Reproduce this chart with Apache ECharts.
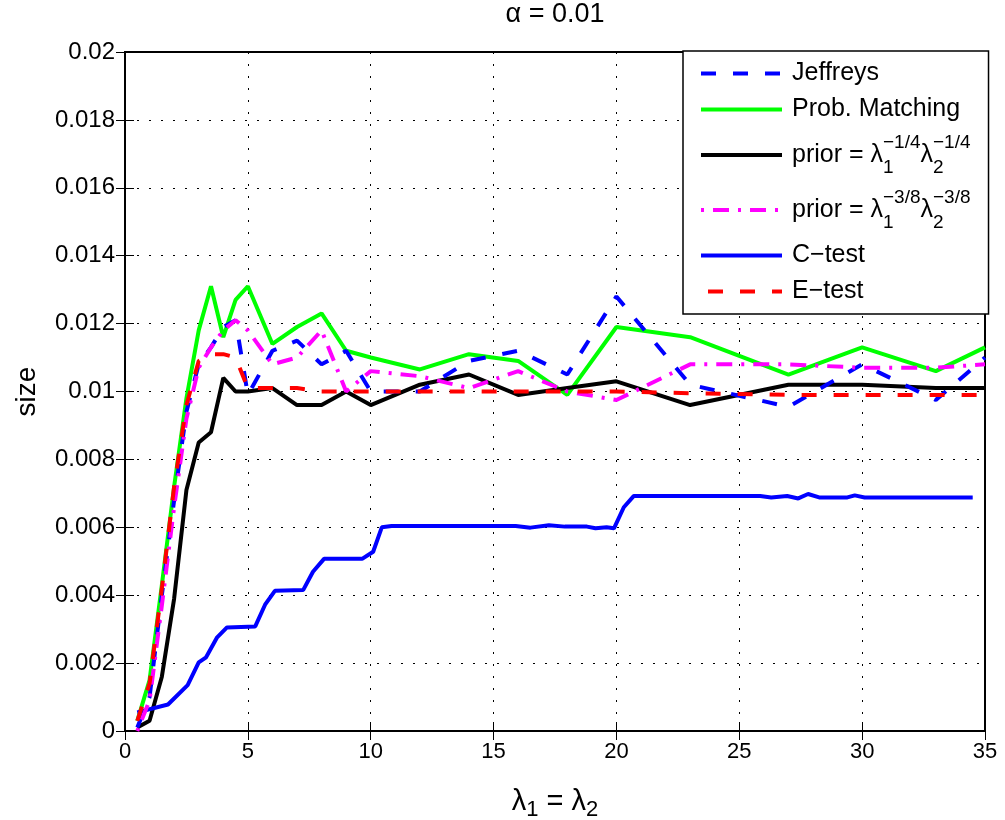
<!DOCTYPE html>
<html>
<head>
<meta charset="utf-8">
<script src="https://cdn.jsdelivr.net/npm/echarts@6/dist/echarts.min.js"></script>
<style>
  html, body { margin: 0; padding: 0; background: #fff; }
  #chart { width: 1005px; height: 820px; }
</style>
</head>
<body>
<div id="chart"></div>
<script>
// lambda values shared by the Bayesian tests and the E-test
const lambdaGrid = [0.5, 1, 1.5, 2, 2.5, 3, 3.5, 4, 4.5, 5, 6, 7, 8, 9, 10, 12, 14, 16, 18, 20, 23, 27, 30, 33, 35];

const jeffreys = [0.0001, 0.0010, 0.0040, 0.0068, 0.0094, 0.0108, 0.0113, 0.0119, 0.0121, 0.0099,
  0.0112, 0.0115, 0.0108, 0.0112, 0.0100, 0.0100, 0.0109, 0.0112, 0.0105, 0.0128,
  0.0102, 0.00955, 0.0108, 0.00975, 0.0110];

const probMatching = [0.0003, 0.0015, 0.0043, 0.0072, 0.0098, 0.0118, 0.0131, 0.0116, 0.0127, 0.0131,
  0.0114, 0.0119, 0.0123, 0.0112, 0.0110, 0.01065, 0.0111, 0.0109, 0.0099, 0.0119,
  0.0116, 0.0105, 0.0113, 0.0106, 0.0113];

const priorQuarter = [0.0001, 0.0003, 0.0016, 0.0039, 0.0071, 0.0085, 0.0088, 0.0104, 0.0100, 0.0100,
  0.0101, 0.0096, 0.0096, 0.0100, 0.0096, 0.0102, 0.0105, 0.0099, 0.0101, 0.0103,
  0.0096, 0.0102, 0.0102, 0.0101, 0.0101];

const priorThreeEighths = [0.0000, 0.0009, 0.0037, 0.0066, 0.0092, 0.0107, 0.0113, 0.0118, 0.0121, 0.0118,
  0.0108, 0.0110, 0.0118, 0.0100, 0.0106, 0.01045, 0.0101, 0.0106, 0.0100, 0.00975,
  0.0108, 0.0108, 0.0107, 0.0107, 0.0108];

const eTest = [0.0003, 0.0014, 0.0042, 0.0072, 0.0096, 0.0109, 0.0111, 0.0111, 0.0110, 0.0101,
  0.0101, 0.0101, 0.0100, 0.0100, 0.0100, 0.0100, 0.0100, 0.0100, 0.0100, 0.0100,
  0.00995, 0.0099, 0.0099, 0.0099, 0.0099];

// the C-test is evaluated on its own, finer lambda grid
const cTestLambda = [0.5, 1.75, 2.55, 3.0, 3.3, 3.75, 4.15, 5.3, 5.7, 6.1,
  7.25, 7.65, 8.1, 9.65, 10.1, 10.45, 10.85, 15.9, 16.5, 17.25,
  17.9, 18.8, 19.15, 19.6, 19.9, 20.3, 20.7, 25.85, 26.3, 26.95,
  27.4, 27.8, 28.25, 29.4, 29.7, 30.1, 34.5];
const cTest = [0.00055, 0.00078, 0.00135, 0.00202, 0.00217, 0.00276, 0.00305, 0.00308, 0.00372, 0.00413,
  0.00415, 0.00469, 0.00507, 0.00507, 0.00528, 0.0060, 0.00604, 0.00604, 0.00599, 0.00606,
  0.00602, 0.00602, 0.00597, 0.0060, 0.00597, 0.00659, 0.00692, 0.00692, 0.00688, 0.00692,
  0.00685, 0.00698, 0.00688, 0.00688, 0.00694, 0.00688, 0.00688];

const xTicks = { min: 0, max: 35, interval: 5 };
const yTicks = { min: 0, max: 0.02, interval: 0.002 };

const FONT = "'Liberation Sans', Arial, Helvetica, sans-serif";

function pairs(xs, ys) {
  return xs.map((x, i) => [x, ys[i]]);
}

// legend labels with λ sub/superscripts
const legendLabels = {
  'Jeffreys': '{n|Jeffreys}',
  'Prob. Matching': '{n|Prob. Matching}',
  'prior 1/4': '{m|prior = λ}{b|1}{p|−1/4}{m|λ}{b|2}{p|−1/4}',
  'prior 3/8': '{m|prior = λ}{b|1}{p|−3/8}{m|λ}{b|2}{p|−3/8}',
  'C−test': '{n|C−test}',
  'E−test': '{n|E−test}'
};

const dotted = { color: '#000', width: 1, type: [2, 10] };

const chart = echarts.init(document.getElementById('chart'), null, { renderer: 'canvas' });

chart.setOption({
  animation: false,
  backgroundColor: '#fff',
  textStyle: { fontFamily: FONT },
  title: {
    text: 'α = 0.01',
    left: 555,
    top: 0,
    padding: 0,
    textAlign: 'center',
    textStyle: { fontFamily: FONT, fontSize: 27, fontWeight: 'normal', color: '#000', lineHeight: 30 }
  },
  grid: {
    left: 125, right: 20, top: 52, bottom: 89,
    outerBoundsMode: 'none',
    containLabel: false,
    show: true, borderColor: '#000', borderWidth: 2, backgroundColor: 'transparent'
  },
  legend: {
    orient: 'vertical',
    left: 683,
    top: 51,
    padding: [10, 18, 10, 16],
    itemGap: 11,
    itemWidth: 81,
    itemHeight: 14,
    selectedMode: false,
    backgroundColor: '#fff',
    borderColor: '#000',
    borderWidth: 1.5,
    borderRadius: 0,
    lineStyle: { width: 4 },
    itemStyle: { opacity: 0, borderWidth: 0 },
    data: ['Jeffreys', 'Prob. Matching', 'prior 1/4', 'prior 3/8', 'C−test', 'E−test'],
    formatter: name => legendLabels[name],
    textStyle: {
      fontFamily: FONT,
      color: '#000',
      padding: [0, 0, 0, 5],
      rich: {
        n: { fontFamily: FONT, fontSize: 25, lineHeight: 24, color: '#000' },
        m: { fontFamily: FONT, fontSize: 25, lineHeight: 44, color: '#000', verticalAlign: 'middle' },
        b: { fontFamily: FONT, fontSize: 19, lineHeight: 17, color: '#000', verticalAlign: 'bottom', width: 0 },
        p: { fontFamily: FONT, fontSize: 19, lineHeight: 25, color: '#000', verticalAlign: 'top' }
      }
    }
  },
  xAxis: [
    {
      type: 'value',
      position: 'bottom',
      min: xTicks.min, max: xTicks.max, interval: xTicks.interval,
      name: '{l|λ}{s|1}{l| = λ}{s|2}',
      nameLocation: 'middle',
      nameGap: 52,
      nameTextStyle: {
        rich: {
          l: { fontFamily: FONT, fontSize: 29, lineHeight: 38, color: '#000', verticalAlign: 'middle' },
          s: { fontFamily: FONT, fontSize: 22, lineHeight: 20, color: '#000', verticalAlign: 'bottom' }
        }
      },
      axisLine: { show: true, lineStyle: { color: '#000', width: 2 } },
      axisTick: { show: true, inside: true, length: 9, lineStyle: { color: '#000', width: 1 } },
      axisLabel: { fontFamily: FONT, fontSize: 22, color: '#000', margin: 10 },
      splitLine: { show: true, lineStyle: dotted }
    },
    {
      type: 'value',
      position: 'top',
      min: xTicks.min, max: xTicks.max, interval: xTicks.interval,
      axisLine: { show: false },
      axisTick: { show: true, inside: true, length: 9, lineStyle: { color: '#000', width: 1 } },
      axisLabel: { show: false },
      splitLine: { show: false }
    }
  ],
  yAxis: [
    {
      type: 'value',
      position: 'left',
      min: yTicks.min, max: yTicks.max, interval: yTicks.interval,
      name: 'size',
      nameLocation: 'middle',
      nameGap: 84,
      nameRotate: 90,
      nameTextStyle: { fontFamily: FONT, fontSize: 28, color: '#000' },
      axisLine: { show: true, lineStyle: { color: '#000', width: 2 } },
      axisTick: { show: true, inside: true, length: 9, lineStyle: { color: '#000', width: 1 } },
      axisLabel: { fontFamily: FONT, fontSize: 24, color: '#000', margin: 10 },
      splitLine: { show: true, lineStyle: dotted }
    },
    {
      type: 'value',
      position: 'right',
      min: yTicks.min, max: yTicks.max, interval: yTicks.interval,
      axisLine: { show: false },
      axisTick: { show: true, inside: true, length: 9, lineStyle: { color: '#000', width: 1 } },
      axisLabel: { show: false },
      splitLine: { show: false }
    }
  ],
  series: [
    {
      name: 'Jeffreys', type: 'line', symbol: 'none', z: 5,
      data: pairs(lambdaGrid, jeffreys),
      lineStyle: { color: '#0000ff', width: 4, type: [15, 17] },
      itemStyle: { color: '#0000ff' }
    },
    {
      name: 'Prob. Matching', type: 'line', symbol: 'none', z: 3,
      data: pairs(lambdaGrid, probMatching),
      lineStyle: { color: '#00ff00', width: 4, type: 'solid' },
      itemStyle: { color: '#00ff00' }
    },
    {
      name: 'prior 1/4', type: 'line', symbol: 'none', z: 4,
      data: pairs(lambdaGrid, priorQuarter),
      lineStyle: { color: '#000000', width: 4, type: 'solid' },
      itemStyle: { color: '#000000' }
    },
    {
      name: 'prior 3/8', type: 'line', symbol: 'none', z: 6,
      data: pairs(lambdaGrid, priorThreeEighths),
      lineStyle: { color: '#ff00ff', width: 4, type: [16, 9, 3, 9], dashOffset: 25 },
      itemStyle: { color: '#ff00ff' }
    },
    {
      name: 'C−test', type: 'line', symbol: 'none', z: 4,
      data: pairs(cTestLambda, cTest),
      lineStyle: { color: '#0000ff', width: 4, type: 'solid' },
      itemStyle: { color: '#0000ff' }
    },
    {
      name: 'E−test', type: 'line', symbol: 'none', z: 7,
      data: pairs(lambdaGrid, eTest),
      lineStyle: { color: '#ff0000', width: 4, type: [15, 17] },
      itemStyle: { color: '#ff0000' }
    }
  ]
});
</script>
</body>
</html>
